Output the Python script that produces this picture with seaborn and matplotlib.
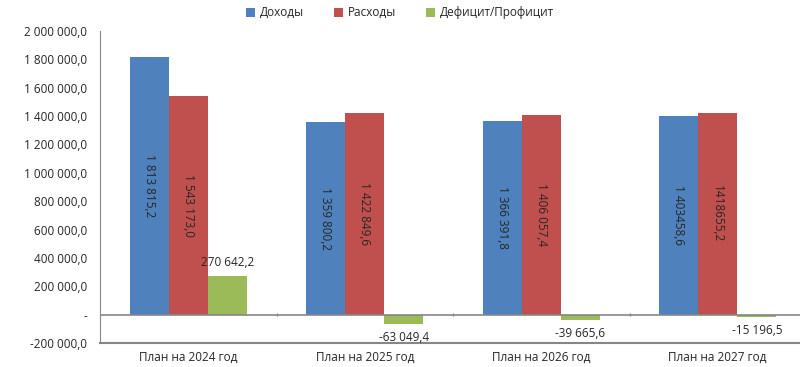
import numpy as np
import pandas as pd
import seaborn as sns
import matplotlib.pyplot as plt
from matplotlib.ticker import FuncFormatter

# data
categories = ["План на 2024 год", "План на 2025 год", "План на 2026 год", "План на 2027 год"]
series = ["Доходы", "Расходы", "Дефицит/Профицит"]
income = [1813815.2, 1359800.2, 1366391.8, 1403458.6]
expenses = [1543173.0, 1422849.6, 1406057.4, 1418655.2]
balance = [270642.2, -63049.4, -39665.6, -15196.5]
income_labels = ["1 813 815,2", "1 359 800,2", "1 366 391,8", "1 403458,6"]
expenses_labels = ["1 543 173,0", "1 422 849,6", "1 406 057,4", "1418655,2"]
balance_labels = ["270 642,2", "-63 049,4", "-39 665,6", "-15 196,5"]
colors = ["#4F81BD", "#C0504D", "#9BBB59"]

df = pd.DataFrame({
    "cat": categories * 3,
    "series": [s for s in series for _ in categories],
    "value": income + expenses + balance,
})

sns.set_style("white")
plt.rcParams["font.family"] = ["Open Sans", "DejaVu Sans"]

fig = plt.figure(figsize=(8, 3.67), dpi=100)
ax = fig.add_axes([100 / 800, 24 / 367, 706 / 800, 312 / 367])

sns.barplot(data=df, x="cat", y="value", hue="series", palette=colors,
            width=0.665, saturation=1, linewidth=0, ax=ax, legend=True)

ax.set_ylim(-200000, 2000000)
ax.set_xlim(-0.5, len(categories) - 0.5)
ax.set_yticks(np.arange(-200000, 2000001, 200000))


def fmt(v, pos):
    if v == 0:
        return "-"
    s = f"{abs(v):,.1f}".replace(",", " ").replace(".", ",")
    return ("-" if v < 0 else "") + s


ax.yaxis.set_major_formatter(FuncFormatter(fmt))
ax.tick_params(axis="y", direction="out", length=5, color="#868686", labelsize=8.5, pad=4)
ax.tick_params(axis="x", length=0, labelsize=8.5, pad=6)
ax.set_xlabel("")
ax.set_ylabel("")

for s in ["top", "right"]:
    ax.spines[s].set_visible(False)
ax.spines["left"].set_color("#868686")
ax.spines["bottom"].set_color("#868686")
ax.spines["bottom"].set_linewidth(1.5)

# zero axis with category separators
ax.axhline(0, color="#868686", lw=1.2, zorder=3)
bounds = np.arange(len(categories) - 1) + 0.5
ax.vlines(bounds, -12000, 12000, color="#868686", lw=1, zorder=3)

# value labels
ax.bar_label(ax.containers[0], labels=income_labels, label_type="center",
             rotation=-90, fontsize=8.5)
ax.bar_label(ax.containers[1], labels=expenses_labels, label_type="center",
             rotation=-90, fontsize=8.5)
ax.bar_label(ax.containers[2], labels=balance_labels, label_type="edge",
             padding=5, fontsize=8.5)

handles, labels = ax.get_legend_handles_labels()
ax.get_legend().remove()
fig.legend(handles, labels, loc="upper center", bbox_to_anchor=(0.5, 1.012),
           ncol=3, frameon=False, fontsize=8.5, handlelength=0.8, handleheight=0.8,
           handletextpad=0.4, columnspacing=2.5)

fig.savefig("out.png", dpi=100)
